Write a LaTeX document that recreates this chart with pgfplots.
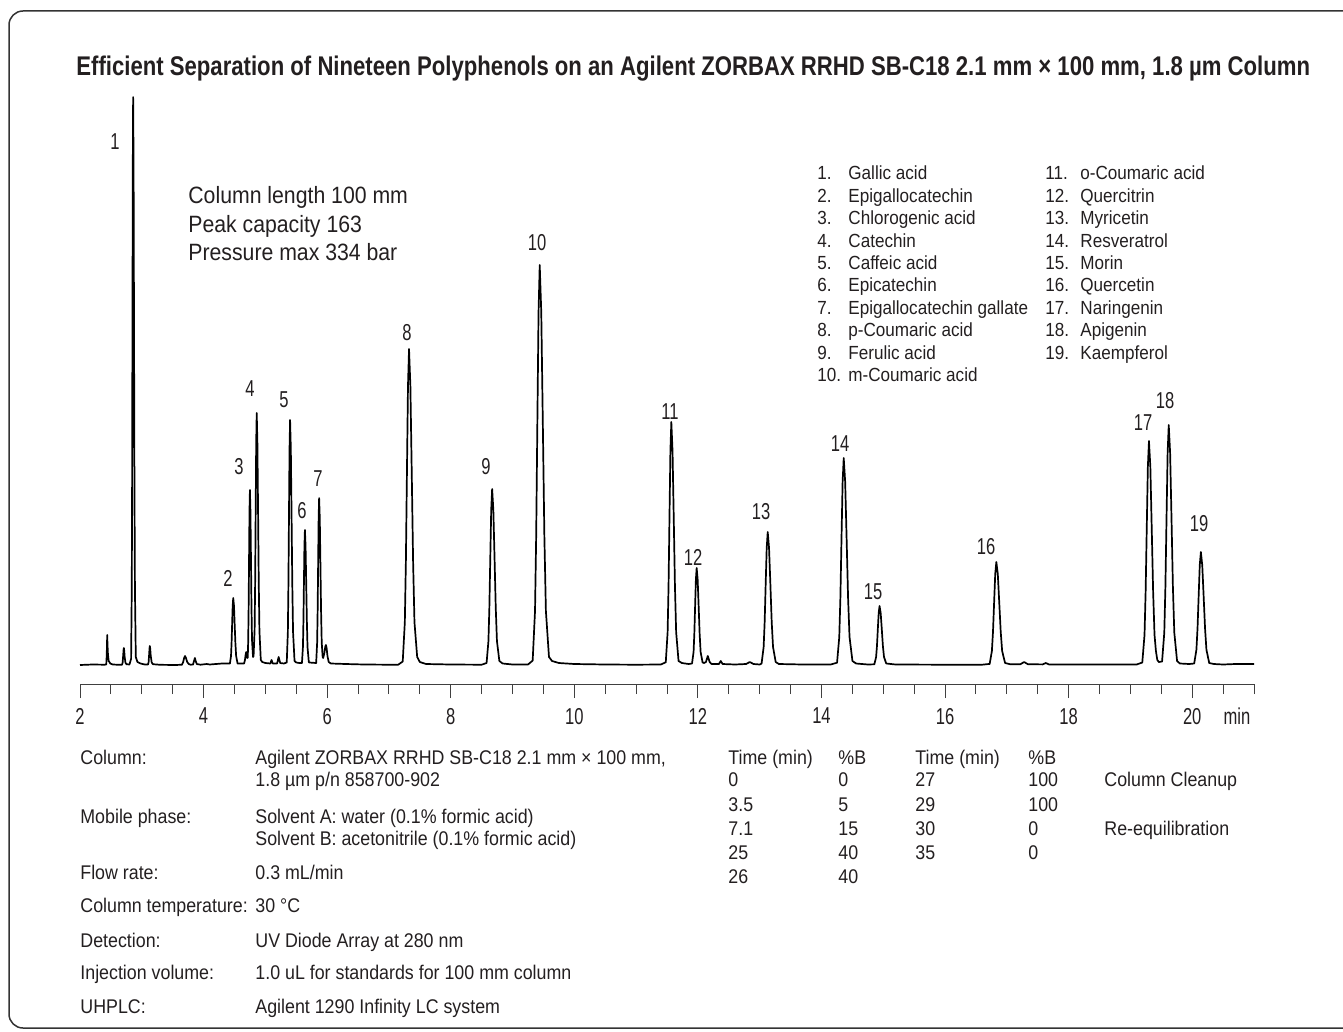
\documentclass[border=0pt]{standalone}
\usepackage{fontspec}
\setmainfont{Liberation Sans}[FakeStretch=0.9]
\newfontfamily\numf{Liberation Sans}[FakeStretch=0.72]
\newfontfamily\titf{Liberation Sans}[FakeStretch=0.82]
\usepackage{pgfplots}
\usepackage{pgfplotstable}
\pgfplotsset{compat=1.18}
\definecolor{txt}{HTML}{231F20}

\pgfplotstableread{
t y
2.00 0
2.20 0.5
2.40 0.3
2.425 0.5
2.432 9
2.437 20
2.440 30
2.446 19
2.453 10
2.465 4
2.490 1.5
2.530 0.5
2.600 0.3
2.680 0.3
2.690 2.3
2.700 10.3
2.705 15
2.710 17
2.716 14
2.723 8
2.735 2.5
2.750 0.8
2.800 0.5
2.827 6.2
2.838 76.7
2.8435 184.6
2.849 344.8
2.8545 501
2.860 568
2.867 501
2.874 344.8
2.881 184.6
2.889 76.7
2.903 8
2.930 3
2.980 1.5
3.050 0.5
3.100 0.5
3.110 2.6
3.120 11.5
3.125 16.8
3.130 19
3.137 16
3.145 9
3.160 2.6
3.180 0.8
3.300 0.2
3.550 0
3.650 0.3
3.670 3
3.685 7
3.700 9
3.715 7
3.735 3
3.760 1
3.790 0.3
3.830 0.5
3.845 4
3.860 7
3.872 4
3.890 1
3.950 0.3
4.050 1
4.100 0.5
4.200 1
4.300 1.5
4.400 1.5
4.426 1.5
4.444 9
4.453 21.8
4.462 40.7
4.471 59.1
4.480 67
4.492 59.1
4.503 40.7
4.515 21.8
4.527 9
4.550 1.5
4.600 1.5
4.655 1.5
4.670 5
4.680 10
4.690 13
4.700 10
4.708 7
4.715 7.5
4.722 23.6
4.729 56.9
4.736 106
4.743 154
4.750 175
4.7585 154
4.767 106
4.7755 57
4.784 25
4.800 8
4.809 9
4.826 35
4.8345 82
4.843 153
4.8515 222
4.860 252
4.871 222
4.882 153
4.893 82
4.904 34
4.926 5
4.950 3
5.000 2
5.080 1.5
5.100 5
5.120 1.5
5.190 1.5
5.215 8
5.240 2
5.300 1.5
5.346 2.5
5.364 33
5.373 80
5.382 149
5.391 216
5.400 245
5.412 216
5.424 149
5.436 80
5.448 33
5.472 4
5.500 2.5
5.550 2
5.592 2
5.608 18
5.616 44
5.624 82
5.632 119
5.640 135
5.6505 119
5.661 82
5.6715 44
5.682 18
5.703 3
5.710 2.5
5.822 2
5.838 22.5
5.846 54
5.854 101
5.862 147
5.870 167
5.8805 147
5.891 101
5.9015 54
5.912 22.5
5.927 8
5.935 7
5.955 12
5.970 18.5
5.980 20
5.990 17.5
6.005 9
6.025 3
6.060 1.5
6.300 1
6.600 0.5
7.000 0.3
7.150 0.3
7.223 3.5
7.257 42.7
7.274 103
7.291 192
7.308 279
7.325 316
7.347 279
7.369 192
7.391 103
7.413 42.7
7.457 8
7.500 3
7.600 1
8.000 0.5
8.500 0.3
8.580 2
8.610 23.8
8.625 57
8.640 107
8.655 155
8.670 176
8.6895 155
8.709 107
8.7285 57
8.748 23.8
8.787 4
8.840 1.5
9.000 0.5
9.250 0.5
9.326 4.4
9.364 54
9.383 130
9.402 243
9.421 353
9.440 400
9.465 353
9.490 243
9.515 130
9.540 54
9.590 8
9.640 4
9.750 2
10.000 1
10.500 0.5
11.000 0.3
11.400 0.5
11.480 2.7
11.510 32.8
11.525 79
11.540 147.5
11.555 214
11.570 243
11.5895 214
11.609 147.5
11.6285 79
11.648 32.8
11.687 4
11.740 2
11.850 1
11.905 1.5
11.930 13
11.9425 31.5
11.955 59
11.9675 85.6
11.980 97
11.996 85.6
12.012 59
12.028 31.5
12.044 13
12.076 2.5
12.100 2
12.130 3
12.160 9
12.190 3
12.220 1
12.340 1
12.370 4
12.400 1
12.600 0.5
12.780 1
12.840 3
12.900 1
13.000 0.5
13.031 1.5
13.064 18
13.0805 43
13.097 81
13.1135 117
13.130 133
13.1515 117
13.173 81
13.1945 43
13.216 18
13.259 3
13.310 1
13.700 0.5
14.150 0.5
14.252 2.3
14.288 28
14.306 67
14.324 126
14.342 183
14.360 207
14.3835 183
14.407 126
14.4305 67
14.454 28
14.501 4
14.560 1.5
14.750 0.5
14.856 0.7
14.884 8
14.898 19
14.912 36
14.926 52
14.940 59
14.958 52
14.976 36
14.994 19
15.012 8
15.048 1.5
15.200 0.5
16.000 0.3
16.600 0.3
16.722 1.1
16.758 14
16.776 33.5
16.794 62.5
16.812 91
16.830 103
16.8535 91
16.877 62.5
16.9005 33.5
16.924 14
16.971 2
17.050 0.8
17.220 0.8
17.280 3
17.340 0.8
17.580 0.6
17.630 2
17.680 0.6
18.500 0.5
19.100 0.5
19.192 2.5
19.228 30
19.246 73
19.264 136
19.282 198
19.300 224
19.3225 198
19.345 136
19.3675 73
19.390 30
19.4125 14
19.435 5
19.460 3
19.512 3.5
19.548 32.4
19.566 78
19.584 146
19.602 212
19.620 240
19.6425 212
19.665 146
19.6875 78
19.710 32.4
19.755 4
19.800 1.5
19.950 1
20.032 1.5
20.068 15.3
20.086 36.7
20.104 68.6
20.122 99.7
20.140 113
20.1625 99.7
20.185 68.6
20.2075 36.7
20.230 15.3
20.275 2
20.350 1
20.500 0.5
20.700 1
21.000 1
}\chrom

\begin{document}
\begin{tikzpicture}
\useasboundingbox (0,0) rectangle (671.5pt,-516pt);
\begin{axis}[
  at={(40pt,-342pt)}, anchor=south west,
  scale only axis, width=587pt, height=309.5pt,
  xmin=2, xmax=21, ymin=-19, ymax=600,
  axis y line=none, axis x line*=bottom,
  xtick={2,4,...,20}, minor x tick num=3,
  extra x ticks={20.5,21}, extra x tick labels={},
  extra x tick style={major tick length=5pt},
  major tick length=7pt, minor tick length=5pt,
  xtick align=outside,
  tick style={black!75, line width=0.5pt},
  axis line style={black!75, line width=0.5pt},
  xticklabel style={font=\numf\fontsize{11.5}{13}\selectfont, text=txt, yshift=-1.5pt},
  /pgf/number format/assume math mode=true,
  clip=false]
\addplot[black, line width=0.85pt, line join=round, mark=none] table[x=t,y=y] {\chrom};
\end{axis}

\begin{scope}[x=0.5pt, y=-0.5pt, every node/.style={inner sep=0pt, text=txt}]
\draw[black!80, line width=0.75pt, rounded corners=7pt] (9,11) rectangle (1400,1028);
\node[anchor=base west, font=\titf\bfseries\fontsize{13.5}{16}\selectfont] at (76,75.5)
  {Efficient Separation of Nineteen Polyphenols on an Agilent ZORBAX RRHD SB-C18 2.1 mm × 100 mm, 1.8 µm Column};

\begin{scope}[every node/.append style={anchor=base west, font=\fontsize{11.8}{14}\selectfont}]
\node at (188,204) {Column length 100 mm};
\node at (188,233) {Peak capacity 163};
\node at (188,261) {Pressure max 334 bar};
\end{scope}

\begin{scope}[every node/.append style={font=\numf\fontsize{11.5}{13}\selectfont}]
\node at (115,142) {1};
\node at (228,578) {2};
\node at (239,467) {3};
\node at (250,389) {4};
\node at (284,400) {5};
\node at (302,511) {6};
\node at (318,479) {7};
\node at (407,333) {8};
\node at (486,467) {9};
\node at (537,243) {10};
\node at (670,412) {11};
\node at (693,557) {12};
\node at (761,512) {13};
\node at (840,444) {14};
\node at (873,592) {15};
\node at (986,547) {16};
\node at (1143,423) {17};
\node at (1165,401) {18};
\node at (1199,524) {19};
\node at (1237,716) {min};
\end{scope}

\begin{scope}[every node/.append style={anchor=base west, font=\fontsize{9.5}{11}\selectfont}]
\node at (817,180) {1.};   \node at (848,180) {Gallic acid};
\node at (817,202.4) {2.}; \node at (848,202.4) {Epigallocatechin};
\node at (817,224.8) {3.}; \node at (848,224.8) {Chlorogenic acid};
\node at (817,247.2) {4.}; \node at (848,247.2) {Catechin};
\node at (817,269.6) {5.}; \node at (848,269.6) {Caffeic acid};
\node at (817,292) {6.};   \node at (848,292) {Epicatechin};
\node at (817,314.4) {7.}; \node at (848,314.4) {Epigallocatechin gallate};
\node at (817,336.8) {8.}; \node at (848,336.8) {p-Coumaric acid};
\node at (817,359.2) {9.}; \node at (848,359.2) {Ferulic acid};
\node at (817,381.6) {10.}; \node at (848,381.6) {m-Coumaric acid};
\node at (1045,180) {11.};   \node at (1080,180) {o-Coumaric acid};
\node at (1045,202.4) {12.}; \node at (1080,202.4) {Quercitrin};
\node at (1045,224.8) {13.}; \node at (1080,224.8) {Myricetin};
\node at (1045,247.2) {14.}; \node at (1080,247.2) {Resveratrol};
\node at (1045,269.6) {15.}; \node at (1080,269.6) {Morin};
\node at (1045,292) {16.};   \node at (1080,292) {Quercetin};
\node at (1045,314.4) {17.}; \node at (1080,314.4) {Naringenin};
\node at (1045,336.8) {18.}; \node at (1080,336.8) {Apigenin};
\node at (1045,359.2) {19.}; \node at (1080,359.2) {Kaempferol};
\end{scope}

\begin{scope}[every node/.append style={anchor=base west, font=\fontsize{9.9}{11}\selectfont}]
\node at (80,764) {Column:};
\node at (255,764) {Agilent ZORBAX RRHD SB-C18 2.1 mm × 100 mm,};
\node at (255,786) {1.8 µm p/n 858700-902};
\node at (80,823) {Mobile phase:};
\node at (255,823) {Solvent A: water (0.1\% formic acid)};
\node at (255,845) {Solvent B: acetonitrile (0.1\% formic acid)};
\node at (80,879) {Flow rate:};
\node at (255,879) {0.3 mL/min};
\node at (80,912) {Column temperature:};
\node at (255,912) {30 °C};
\node at (80,947) {Detection:};
\node at (255,947) {UV Diode Array at 280 nm};
\node at (80,979) {Injection volume:};
\node at (255,979) {1.0 uL for standards for 100 mm column};
\node at (80,1013) {UHPLC:};
\node at (255,1013) {Agilent 1290 Infinity LC system};

\node at (728,764) {Time (min)}; \node at (838,764) {\%B};
\node at (915,764) {Time (min)}; \node at (1028,764) {\%B};
\node at (728,786) {0};   \node at (838,786) {0};   \node at (915,786) {27}; \node at (1028,786) {100}; \node at (1104,786) {Column Cleanup};
\node at (728,811) {3.5}; \node at (838,811) {5};   \node at (915,811) {29}; \node at (1028,811) {100};
\node at (728,835) {7.1}; \node at (838,835) {15};  \node at (915,835) {30}; \node at (1028,835) {0}; \node at (1104,835) {Re-equilibration};
\node at (728,859) {25};  \node at (838,859) {40};  \node at (915,859) {35}; \node at (1028,859) {0};
\node at (728,883) {26};  \node at (838,883) {40};
\end{scope}
\end{scope}
\end{tikzpicture}
\end{document}
